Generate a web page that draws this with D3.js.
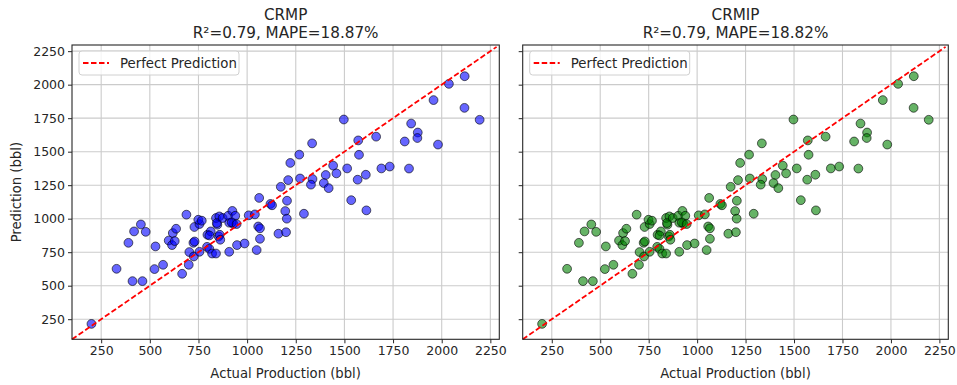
<!DOCTYPE html>
<html>
<head>
<meta charset="utf-8">
<script src="https://cdn.jsdelivr.net/npm/d3@7"></script>
<style>
  body { margin: 0; background: #fff; }
  svg text { font-family: "DejaVu Sans", sans-serif; fill: #262626; }
</style>
</head>
<body>
<svg id="chart" width="957" height="385"></svg>
<script>
// actual production, same wells for both models
var actual = [200, 329, 390, 419, 454, 479, 411, 462, 529, 524, 568, 666, 700, 703, 726, 724, 730, 755, 729, 755,
  597, 614, 618, 635, 628, 794, 806, 796, 813, 820, 840, 854, 859, 862, 847, 908, 929, 908, 948, 987,
  1049, 1066, 1057, 688, 749, 767, 840, 857, 844, 874, 903, 924, 939, 921, 946, 1008, 1040, 1062, 1066, 806,
  1497, 1334, 1268, 1222, 1442, 1459, 1514, 1404, 1336, 1272, 1211, 1173, 1328, 1394, 1419, 1120, 1128, 1205, 1196, 1292,
  1204, 1535, 1613, 1571, 1575, 1568, 1610, 1663, 1690, 1733, 1810, 1843, 1877, 1875, 1981, 2117, 2195, 1958, 2037, 2118,
  1832, 1161, 1200];

var predCRMP = [215, 626, 820, 905, 957, 902, 534, 534, 793, 624, 656, 589, 656, 751, 718, 820, 830, 753, 938, 960,
  837, 803, 893, 925, 833, 790, 775, 880, 905, 740, 740, 867, 880, 843, 955, 753, 962, 970, 803, 815,
  766, 850, 942, 1030, 992, 985, 1005, 1017, 967, 1005, 1022, 1058, 1022, 972, 960, 1025, 1032, 1155, 928, 875,
  1740, 1562, 1478, 1416, 1396, 1338, 1375, 1326, 1296, 1300, 1288, 1238, 1254, 1266, 1228, 1110, 1100, 1134, 1057, 1037,
  1000, 1138, 1062, 1584, 1477, 1291, 1328, 1612, 1375, 1389, 1576, 1710, 1643, 1602, 1553, 1827, 1738, 1885, 2006, 2063,
  1374, 888, 899];

var predCRMIP = [215, 626, 820, 905, 957, 902, 534, 534, 793, 624, 656, 589, 656, 751, 718, 820, 830, 753, 938, 960,
  837, 803, 893, 925, 833, 790, 775, 880, 905, 740, 740, 867, 880, 843, 955, 753, 962, 970, 803, 815,
  766, 850, 942, 1030, 992, 985, 1005, 1017, 967, 1005, 1022, 1058, 1022, 972, 960, 1025, 1032, 1155, 928, 875,
  1740, 1562, 1478, 1416, 1396, 1338, 1375, 1326, 1296, 1300, 1288, 1238, 1254, 1266, 1228, 1110, 1100, 1134, 1057, 1037,
  1000, 1138, 1062, 1584, 1477, 1291, 1328, 1612, 1375, 1389, 1576, 1710, 1643, 1602, 1553, 1827, 1738, 1885, 2006, 2063,
  1374, 888, 899];

var ticks = [250, 500, 750, 1000, 1250, 1500, 1750, 2000, 2250];
var lims = [100, 2296];
var lineEnds = [100, 2282];

var panels = [
  {title: "CRMP", metrics: "R\u00b2=0.79, MAPE=18.87%", pred: predCRMP, color: "#0000ff", left: 72, right: 499.3, yLabels: true},
  {title: "CRMIP", metrics: "R\u00b2=0.79, MAPE=18.82%", pred: predCRMIP, color: "#008000", left: 522.7, right: 948.3, yLabels: false}
];

var TOP = 45, BOTTOM = 339.3;
var svg = d3.select("#chart");

panels.forEach(function (p) {
  var x = d3.scaleLinear().domain(lims).range([p.left, p.right]);
  var y = d3.scaleLinear().domain(lims).range([BOTTOM, TOP]);
  var g = svg.append("g");

  // grid
  g.selectAll(".gx").data(ticks).enter().append("line")
    .attr("x1", function (d) { return x(d); }).attr("x2", function (d) { return x(d); })
    .attr("y1", TOP).attr("y2", BOTTOM)
    .attr("stroke", "#cbcbcb").attr("stroke-width", 1.1);
  g.selectAll(".gy").data(ticks).enter().append("line")
    .attr("y1", function (d) { return y(d); }).attr("y2", function (d) { return y(d); })
    .attr("x1", p.left).attr("x2", p.right)
    .attr("stroke", "#cbcbcb").attr("stroke-width", 1.1);

  // points
  var pts = actual.map(function (a, i) { return {x: a, y: p.pred[i]}; });
  g.selectAll("circle").data(pts).enter().append("circle")
    .attr("cx", function (d) { return x(d.x); })
    .attr("cy", function (d) { return y(d.y); })
    .attr("r", 4.4)
    .attr("fill", p.color).attr("fill-opacity", 0.6)
    .attr("stroke", "#000").attr("stroke-opacity", 0.6).attr("stroke-width", 1);

  // perfect prediction line
  g.append("line")
    .attr("x1", x(lineEnds[0])).attr("y1", y(lineEnds[0]))
    .attr("x2", x(lineEnds[1])).attr("y2", y(lineEnds[1]))
    .attr("stroke", "#ff0000").attr("stroke-width", 1.8)
    .attr("stroke-dasharray", "5.5,2.5");

  // axes
  var xAxis = d3.axisBottom(x).tickValues(ticks).tickFormat(d3.format("d")).tickSize(4).tickPadding(3);
  var yAxis = d3.axisLeft(y).tickValues(ticks).tickFormat(p.yLabels ? d3.format("d") : "").tickSize(4).tickPadding(3);

  var gx = g.append("g").attr("transform", "translate(0," + BOTTOM + ")").call(xAxis);
  var gy = g.append("g").attr("transform", "translate(" + p.left + ",0)").call(yAxis);
  [gx, gy].forEach(function (a) {
    a.select(".domain").remove();
    a.selectAll("line").attr("stroke", "#262626").attr("stroke-width", 1);
    a.selectAll("text").attr("font-size", "12.5px").attr("font-family", "DejaVu Sans").attr("fill", "#262626");
  });

  // frame
  g.append("rect")
    .attr("x", p.left).attr("y", TOP)
    .attr("width", p.right - p.left).attr("height", BOTTOM - TOP)
    .attr("fill", "none").attr("stroke", "#262626").attr("stroke-width", 1.1);

  // titles
  var cx = (p.left + p.right) / 2;
  g.append("text").attr("x", cx).attr("y", 19.5).attr("text-anchor", "middle")
    .attr("font-size", "15.2px").text(p.title);
  g.append("text").attr("x", cx).attr("y", 37.5).attr("text-anchor", "middle")
    .attr("font-size", "15.2px").text(p.metrics);

  g.append("text").attr("x", cx).attr("y", 378).attr("text-anchor", "middle")
    .attr("font-size", "13.2px").text("Actual Production (bbl)");

  if (p.yLabels) {
    g.append("text").attr("transform", "translate(21," + ((TOP + BOTTOM) / 2) + ") rotate(-90)")
      .attr("text-anchor", "middle").attr("font-size", "13.2px").text("Prediction (bbl)");
  }

  // legend
  var lg = g.append("g").attr("transform", "translate(" + (p.left + 7) + "," + (TOP + 6) + ")");
  lg.append("rect").attr("width", 160).attr("height", 24).attr("rx", 3)
    .attr("fill", "#fff").attr("fill-opacity", 0.8)
    .attr("stroke", "#d0d0d0").attr("stroke-width", 1);
  lg.append("line").attr("x1", 4).attr("x2", 30).attr("y1", 12).attr("y2", 12)
    .attr("stroke", "#ff0000").attr("stroke-width", 1.8).attr("stroke-dasharray", "5.5,2.5");
  lg.append("text").attr("x", 41).attr("y", 16.8).attr("font-size", "13.3px").text("Perfect Prediction");
});
</script>
</body>
</html>
